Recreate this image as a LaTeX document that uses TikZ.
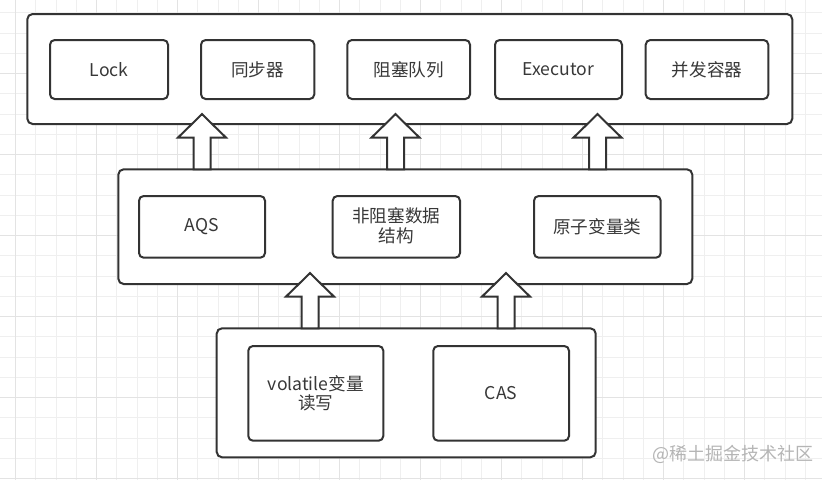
\documentclass[tikz,border=0pt]{standalone}
\usepackage{fontspec}
\setmainfont{Noto Sans CJK SC}
\usetikzlibrary{fit}
\definecolor{ink}{HTML}{333333}
\definecolor{txt}{HTML}{383838}
\definecolor{gridminor}{HTML}{EFEFEF}
\definecolor{gridmajor}{HTML}{E3E3E3}
\definecolor{wm}{HTML}{B5B5B5}
\begin{document}
\begin{tikzpicture}[x=0.75pt,y=-0.75pt,
  outerbox/.style={draw=ink,line width=1.5pt,fill=white,rounded corners=4pt,inner sep=0pt},
  innerbox/.style={draw=ink,line width=1.5pt,fill=white,rounded corners=3.5pt,inner sep=0pt},
  boxtext/.style={text=txt,align=center,inner sep=0pt,font=\fontsize{13.2pt}{14.8pt}\selectfont},
  blockarrow/.style={draw=ink,line width=1.5pt,fill=white,line join=miter}]
\fill[white] (0,0) rectangle (822,480);
\useasboundingbox (0,0) rectangle (822,480);
% grid
\foreach \k in {0,...,39}{
  \pgfmathsetmacro\gx{15.5+\k*20.25}
  \draw[gridminor,line width=0.75pt] (\gx,0) -- (\gx,480);
}
\foreach \k in {-11,...,12}{
  \pgfmathsetmacro\gy{235.5+\k*20.25}
  \draw[gridminor,line width=0.75pt] (0,\gy) -- (822,\gy);
}
\foreach \k in {0,...,9}{
  \pgfmathsetmacro\gx{15.5+\k*81}
  \draw[gridmajor,line width=0.75pt] (\gx,0) -- (\gx,480);
}
\foreach \k in {-2,...,3}{
  \pgfmathsetmacro\gy{235.5+\k*81}
  \draw[gridmajor,line width=0.75pt] (0,\gy) -- (822,\gy);
}
% top layer
\node[outerbox,fit={(27.3,14) (792.3,124)}] (top) {};
\node[innerbox,fit={(50,40) (168,99)}] (lock) {};
\node[innerbox,fit={(201,40) (314.3,99)}] (sync) {};
\node[innerbox,fit={(347.3,40) (470,99)}] (queue) {};
\node[innerbox,fit={(495,40) (622,99)}] (exec) {};
\node[innerbox,fit={(645.7,40) (768.3,99)}] (cont) {};
\node[boxtext] (lockt) at (lock.center) {Lock};
\node[boxtext] (synct) at (sync.center) {同步器};
\node[boxtext] (queuet) at (queue.center) {阻塞队列};
\node[boxtext] (exect) at (exec.center) {Executor};
\node[boxtext] (contt) at (cont.center) {并发容器};
% middle layer
\node[outerbox,fit={(118.3,169.3) (692.3,284)}] (mid) {};
\node[innerbox,fit={(139,196) (265,257.7)}] (aqs) {};
\node[innerbox,fit={(332.7,196) (460,257.7)}] (nbds) {};
\node[innerbox,fit={(534,196) (660.7,257.7)}] (atomic) {};
\node[boxtext] (aqst) at (aqs.center) {AQS};
\node[boxtext] (nbdst) at ([yshift=1pt]nbds.center) {非阻塞数据\\结构};
\node[boxtext] (atomict) at (atomic.center) {原子变量类};
% bottom layer
\node[outerbox,fit={(216.7,328.3) (595.7,457.3)}] (bot) {};
\node[innerbox,fit={(248.3,346) (383.3,440.7)}] (vol) {};
\node[innerbox,fit={(433.3,346) (569,440.7)}] (cas) {};
\node[boxtext] (volt) at (vol.center) {volatile变量\\读写};
\node[boxtext] (cast) at (cas.center) {CAS};
% block arrows
\coordinate (m1) at (202,169.3);
\coordinate (m2) at (395.5,169.3);
\coordinate (m3) at (597.5,169.3);
\coordinate (b1) at (310,328.3);
\coordinate (b2) at (506,328.3);
\foreach \c in {m1,m2,m3,b1,b2}{
  \draw[blockarrow] (\c) ++(-8.5,0) -- ++(0,-31.7) -- ++(-15.5,0) -- ++(24,-23.5)
    -- ++(24,23.5) -- ++(-15.5,0) -- ++(0,31.7) -- cycle;
}
% watermark
\node[text=wm,font=\fontsize{13.5pt}{15pt}\selectfont,inner sep=0pt] (wmark) at (733,454) {@稀土掘金技术社区};
\end{tikzpicture}
\end{document}
